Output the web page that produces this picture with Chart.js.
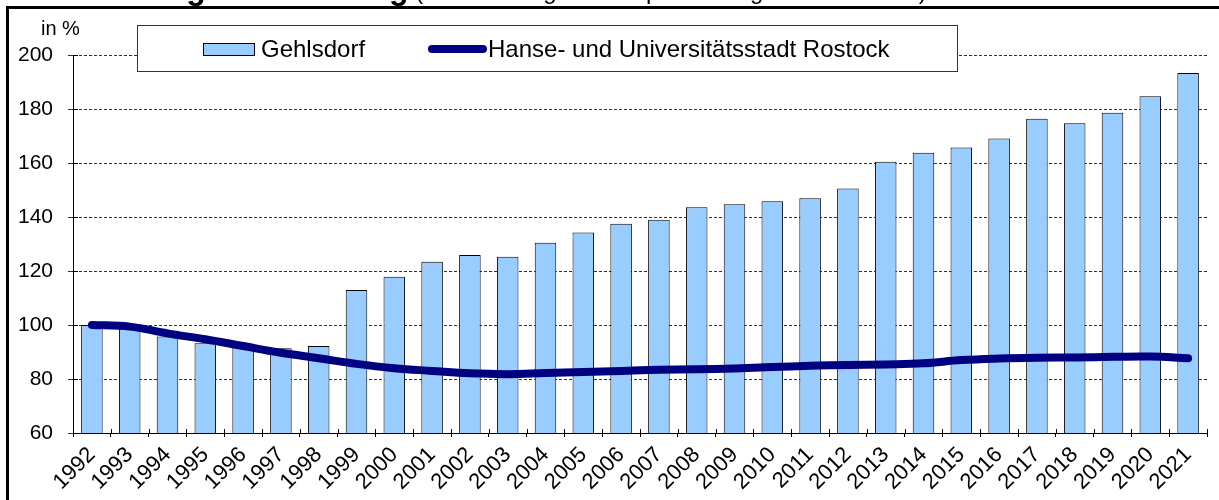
<!DOCTYPE html>
<html>
<head>
<meta charset="utf-8">
<script src="https://cdn.jsdelivr.net/npm/chart.js@4/dist/chart.umd.min.js"></script>
<style>
  body { margin: 0; background: #fff; }
  canvas { display: block; }
</style>
</head>
<body>
<canvas id="chart" width="1219" height="500"></canvas>
<script>
const years = ["1992", "1993", "1994", "1995", "1996", "1997", "1998", "1999", "2000", "2001",
  "2002", "2003", "2004", "2005", "2006", "2007", "2008", "2009", "2010", "2011",
  "2012", "2013", "2014", "2015", "2016", "2017", "2018", "2019", "2020", "2021"];
const gehlsdorf = [100, 98.8, 95.7, 93.2, 92.3, 91.4, 92.2, 113.0, 117.9, 123.4,
  125.9, 125.3, 130.5, 134.3, 137.5, 139.0, 143.6, 144.7, 145.8, 146.9,
  150.6, 160.5, 163.8, 165.7, 169.1, 176.4, 174.7, 178.6, 184.7, 193.3];
const rostock = [100, 99.4, 96.9, 94.7, 92.2, 89.7, 87.7, 85.6, 84.0, 83.0,
  82.1, 81.8, 82.2, 82.6, 83.0, 83.4, 83.6, 83.9, 84.4, 84.9,
  85.2, 85.4, 85.8, 87.0, 87.6, 87.9, 88.0, 88.2, 88.3, 87.7];
const yTicks = [60, 80, 100, 120, 140, 160, 180, 200];

const FONT = "'Liberation Sans', Arial, sans-serif";
const BAR_BLUE = "#99ccff";
const NAVY = "#000080";

// tick marks that cross the axes (Excel style)
const crossTicks = {
  id: "crossTicks",
  afterDatasetsDraw(chart) {
    const { ctx, scales: { x, y } } = chart;
    ctx.save();
    ctx.strokeStyle = "#000";
    ctx.lineWidth = 1;
    ctx.beginPath();
    const step = x.width / x.ticks.length;
    for (let i = 0; i <= x.ticks.length; i++) {
      const px = Math.round(x.left + i * step) + 0.5;
      ctx.moveTo(px, x.top - 4);
      ctx.lineTo(px, x.top);
    }
    y.ticks.forEach(t => {
      const py = Math.round(y.getPixelForValue(t.value)) + 0.5;
      ctx.moveTo(y.right, py);
      ctx.lineTo(y.right + 5, py);
    });
    ctx.stroke();
    ctx.restore();
  }
};

// frame, clipped title, unit label and legend box
const decorations = {
  id: "decorations",
  afterDraw(chart) {
    const ctx = chart.ctx;
    ctx.save();

    // title sits above the frame, only descenders show
    ctx.fillStyle = "#000";
    ctx.textBaseline = "alphabetic";
    ctx.font = "bold 32px " + FONT;
    const bold = "Bevölkerungsentwicklung";
    ctx.fillText(bold, 12, -1);
    const bw = ctx.measureText(bold).width;
    ctx.font = "24px " + FONT;
    ctx.fillText(" (Bevölkerung mit Hauptwohnung 1992 = 100 %)", 12 + bw, -1);

    // outer frame
    ctx.strokeStyle = "#000";
    ctx.lineWidth = 3;
    ctx.strokeRect(7.5, 7.5, 1240, 520);

    // unit
    ctx.font = "20px " + FONT;
    ctx.fillText("in %", 41, 35);

    // legend box
    ctx.fillStyle = "#fff";
    ctx.fillRect(137, 25, 820, 47);
    ctx.strokeStyle = "#333";
    ctx.lineWidth = 1;
    ctx.strokeRect(137.5, 25.5, 820, 46);

    const ds = chart.data.datasets;
    ctx.fillStyle = ds[0].backgroundColor;
    ctx.fillRect(203, 43, 51, 12);
    ctx.strokeStyle = "#000";
    ctx.strokeRect(203.5, 43.5, 51, 12);

    ctx.strokeStyle = ds[1].borderColor;
    ctx.lineWidth = 8;
    ctx.lineCap = "round";
    ctx.beginPath();
    ctx.moveTo(432, 49);
    ctx.lineTo(483, 49);
    ctx.stroke();

    ctx.fillStyle = "#000";
    ctx.font = "24px " + FONT;
    ctx.fillText(ds[0].label, 261, 57);
    ctx.fillText(ds[1].label, 488, 57);
    ctx.restore();
  }
};

new Chart(document.getElementById("chart"), {
  type: "bar",
  data: {
    labels: years,
    datasets: [
      {
        type: "bar",
        label: "Gehlsdorf",
        data: gehlsdorf,
        backgroundColor: BAR_BLUE,
        borderColor: "#000",
        borderWidth: 1,
        categoryPercentage: 1,
        barPercentage: 0.57,
        order: 1
      },
      {
        type: "line",
        label: "Hanse- und Universitätsstadt Rostock",
        data: rostock,
        borderColor: NAVY,
        borderWidth: 8,
        borderCapStyle: "round",
        pointRadius: 0,
        tension: 0.4,
        fill: false,
        order: 0
      }
    ]
  },
  options: {
    responsive: false,
    animation: false,
    layout: { padding: { top: 55, right: 12, left: 0, bottom: 0 } },
    plugins: {
      legend: { display: false },
      tooltip: { enabled: false },
      title: { display: false }
    },
    scales: {
      x: {
        offset: true,
        grid: { offset: true, drawOnChartArea: false, drawTicks: true, tickLength: 4, color: "#000" },
        border: { color: "#000", width: 1 },
        ticks: {
          autoSkip: false,
          minRotation: 45,
          maxRotation: 45,
          padding: 5,
          color: "#000",
          font: { family: FONT, size: 22 }
        },
        afterFit: s => { s.height = 67; }
      },
      y: {
        min: yTicks[0],
        max: yTicks[yTicks.length - 1],
        afterBuildTicks: s => { s.ticks = yTicks.map(v => ({ value: v })); },
        grid: { color: "#333", lineWidth: 1, tickLength: 5 },
        border: { color: "#000", width: 1, dash: [3, 2] },
        ticks: {
          padding: 15,
          color: "#000",
          font: { family: FONT, size: 21 }
        },
        afterFit: s => { s.width = 73; }
      }
    }
  },
  plugins: [crossTicks, decorations]
});
</script>
</body>
</html>
